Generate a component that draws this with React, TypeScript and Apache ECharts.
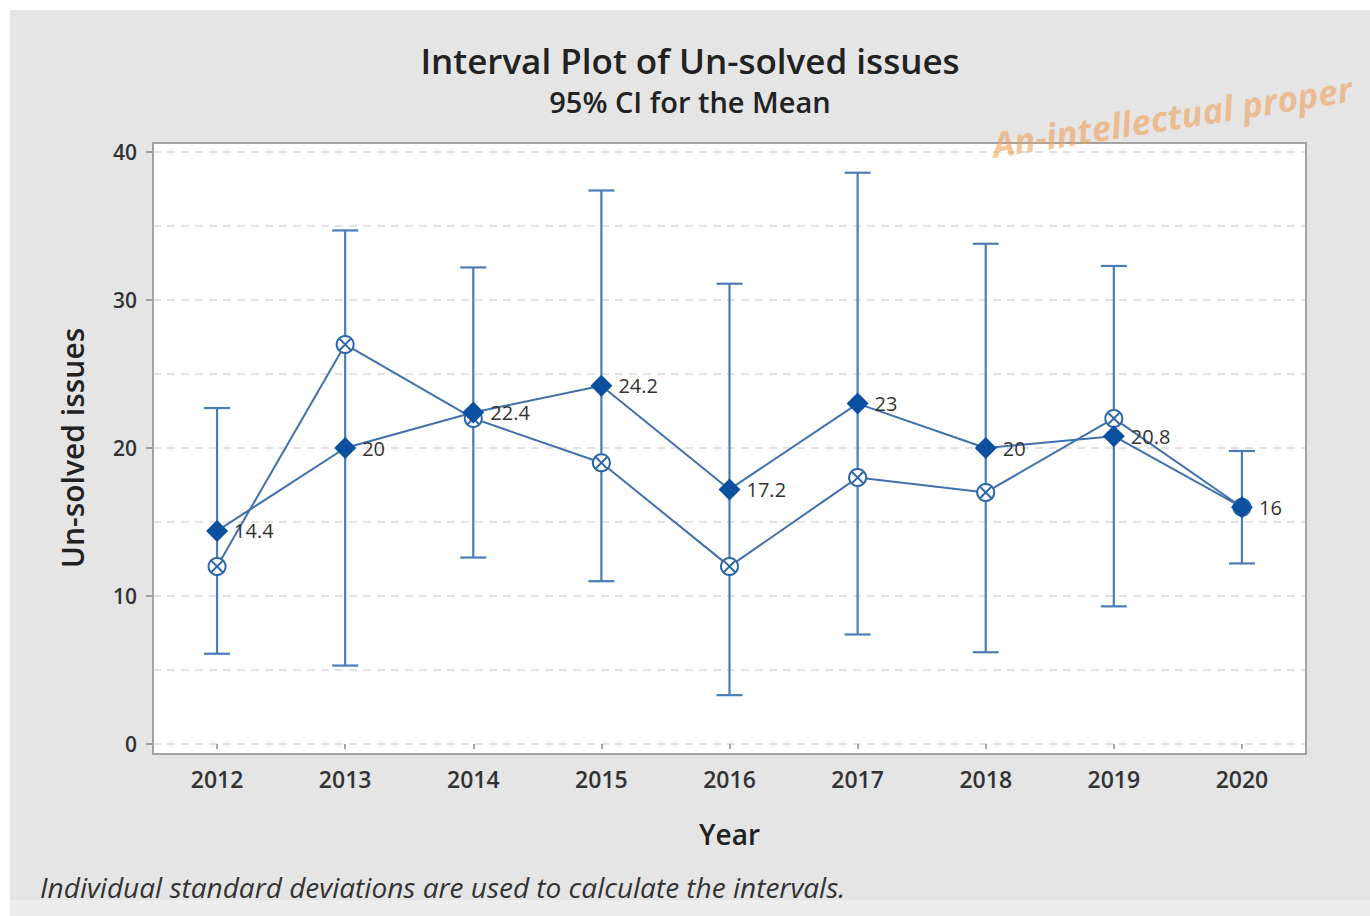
import React, { useEffect, useRef } from "react";
import * as echarts from "echarts";

const years = ["2012", "2013", "2014", "2015", "2016", "2017", "2018", "2019", "2020"];
const meanValues = [14.4, 20, 22.4, 24.2, 17.2, 23, 20, 20.8, 16];
const medianValues = [12, 27, 22, 19, 12, 18, 17, 22, 16];
const ciLower = [6.1, 5.3, 12.6, 11.0, 3.3, 7.4, 6.2, 9.3, 12.2];
const ciUpper = [22.7, 34.7, 32.2, 37.4, 31.1, 38.6, 33.8, 32.3, 19.8];
const yMin = 0;
const yMax = 40;
const yStep = 10;

const FONT = "'Open Sans', 'Noto Sans', sans-serif";
const BAR_COLOR = "#4a7cb5";
const LINE_COLOR = "#3f71ac";
const MEAN_COLOR = "#0b4f9f";

const medianSymbol =
  "path://M10,1 A9,9 0 1,1 9.99,1 Z M3.6,3.6 L16.4,16.4 M16.4,3.6 L3.6,16.4";

export default function App() {
  const ref = useRef<HTMLDivElement>(null);

  useEffect(() => {
    if (!ref.current) return;
    const chart = echarts.init(ref.current, undefined, { renderer: "svg" });
    const option: any = {
      animation: false,
      backgroundColor: "#ffffff",
      grid: { left: 153, right: 64, top: 152, bottom: 172, containLabel: false },
      graphic: {
        elements: [
          {
            type: "rect",
            z: -20,
            shape: { x: 10, y: 10, width: 1360, height: 890 },
            style: { fill: "#e5e5e5" },
          },
          {
            type: "rect",
            z: -20,
            shape: { x: 10, y: 900, width: 1360, height: 16 },
            style: { fill: "#ededed" },
          },
          {
            type: "rect",
            z: -10,
            shape: { x: 153, y: 143, width: 1153, height: 611 },
            style: { fill: "#ffffff" },
          },
          {
            type: "rect",
            z: 50,
            shape: { x: 153, y: 143, width: 1153, height: 611 },
            style: { fill: "none", stroke: "#a3a3a3", lineWidth: 2 },
          },
          {
            type: "text",
            z: 50,
            x: 690,
            y: 60,
            style: {
              text: "Interval Plot of Un-solved issues",
              font: `600 35px ${FONT}`,
              fill: "#222222",
              textAlign: "center",
              textVerticalAlign: "middle",
            },
          },
          {
            type: "text",
            z: 50,
            x: 690,
            y: 101,
            style: {
              text: "95% CI for the Mean",
              font: `600 29px ${FONT}`,
              fill: "#222222",
              textAlign: "center",
              textVerticalAlign: "middle",
            },
          },
          {
            type: "text",
            z: 50,
            x: 40,
            y: 887,
            style: {
              text: "Individual standard deviations are used to calculate the intervals.",
              font: `italic 400 28px ${FONT}`,
              fill: "#333333",
              textAlign: "left",
              textVerticalAlign: "middle",
            },
          },
          {
            type: "text",
            z: 60,
            x: 995,
            y: 162,
            rotation: (9 * Math.PI) / 180,
            style: {
              text: "An-intellectual proper",
              font: `italic 700 35px ${FONT}`,
              fill: "rgba(240, 160, 90, 0.6)",
              textAlign: "left",
              textVerticalAlign: "bottom",
            },
          },
        ],
      },
      xAxis: {
        type: "category",
        data: years,
        offset: 10,
        boundaryGap: true,
        name: "Year",
        nameLocation: "middle",
        nameGap: 66,
        nameTextStyle: { fontFamily: FONT, fontSize: 28, fontWeight: 600, color: "#222222" },
        axisLine: { show: false },
        axisTick: {
          show: true,
          alignWithLabel: true,
          length: 5,
          lineStyle: { color: "#8a8a8a", width: 1.5 },
        },
        axisLabel: { fontFamily: FONT, fontSize: 23, fontWeight: 600, color: "#333333", margin: 13 },
        splitLine: { show: false },
      },
      yAxis: {
        type: "value",
        min: yMin,
        max: yMax,
        interval: yStep,
        name: "Un-solved issues",
        nameLocation: "middle",
        nameGap: 66,
        nameTextStyle: { fontFamily: FONT, fontSize: 30, fontWeight: 600, color: "#222222" },
        axisLine: { show: false },
        axisTick: { show: true, length: 7, lineStyle: { color: "#8a8a8a", width: 1.5 } },
        axisLabel: { fontFamily: FONT, fontSize: 21, fontWeight: 600, color: "#333333", margin: 16 },
        splitLine: { show: true, lineStyle: { color: "#dadada", type: [8, 6], width: 1.5 } },
        minorTick: { show: false, splitNumber: 2 },
        minorSplitLine: { show: true, lineStyle: { color: "#dadada", type: [8, 6], width: 1.5 } },
      },
      series: [
        {
          type: "custom",
          name: "CI",
          z: 2,
          encode: { x: 0, y: [1, 2] },
          data: years.map((_, i) => [i, ciLower[i], ciUpper[i]]),
          renderItem: (params: any, api: any) => {
            const lo = api.coord([api.value(0), api.value(1)]);
            const hi = api.coord([api.value(0), api.value(2)]);
            const cap = 13;
            const style = { stroke: BAR_COLOR, lineWidth: 2.2, fill: "none" };
            return {
              type: "group",
              children: [
                { type: "line", shape: { x1: lo[0], y1: lo[1], x2: hi[0], y2: hi[1] }, style },
                { type: "line", shape: { x1: hi[0] - cap, y1: hi[1], x2: hi[0] + cap, y2: hi[1] }, style },
                { type: "line", shape: { x1: lo[0] - cap, y1: lo[1], x2: lo[0] + cap, y2: lo[1] }, style },
              ],
            };
          },
        },
        {
          type: "line",
          name: "Median",
          z: 3,
          data: medianValues,
          symbol: medianSymbol,
          symbolSize: 17,
          lineStyle: { color: LINE_COLOR, width: 2 },
          itemStyle: { color: "#ffffff", borderColor: "#2d66ab", borderWidth: 2 },
        },
        {
          type: "line",
          name: "Mean",
          z: 4,
          data: meanValues,
          symbol: "diamond",
          symbolSize: [22, 22],
          lineStyle: { color: LINE_COLOR, width: 2 },
          itemStyle: { color: MEAN_COLOR },
          label: {
            show: true,
            position: "right",
            distance: 6,
            fontFamily: FONT,
            fontSize: 20,
            color: "#333333",
          },
        },
      ],
    };
    chart.setOption(option);
    return () => chart.dispose();
  }, []);

  return (
    <div
      ref={ref}
      style={{ position: "absolute", left: 0, top: 0, width: 1370, height: 916 }}
    />
  );
}
